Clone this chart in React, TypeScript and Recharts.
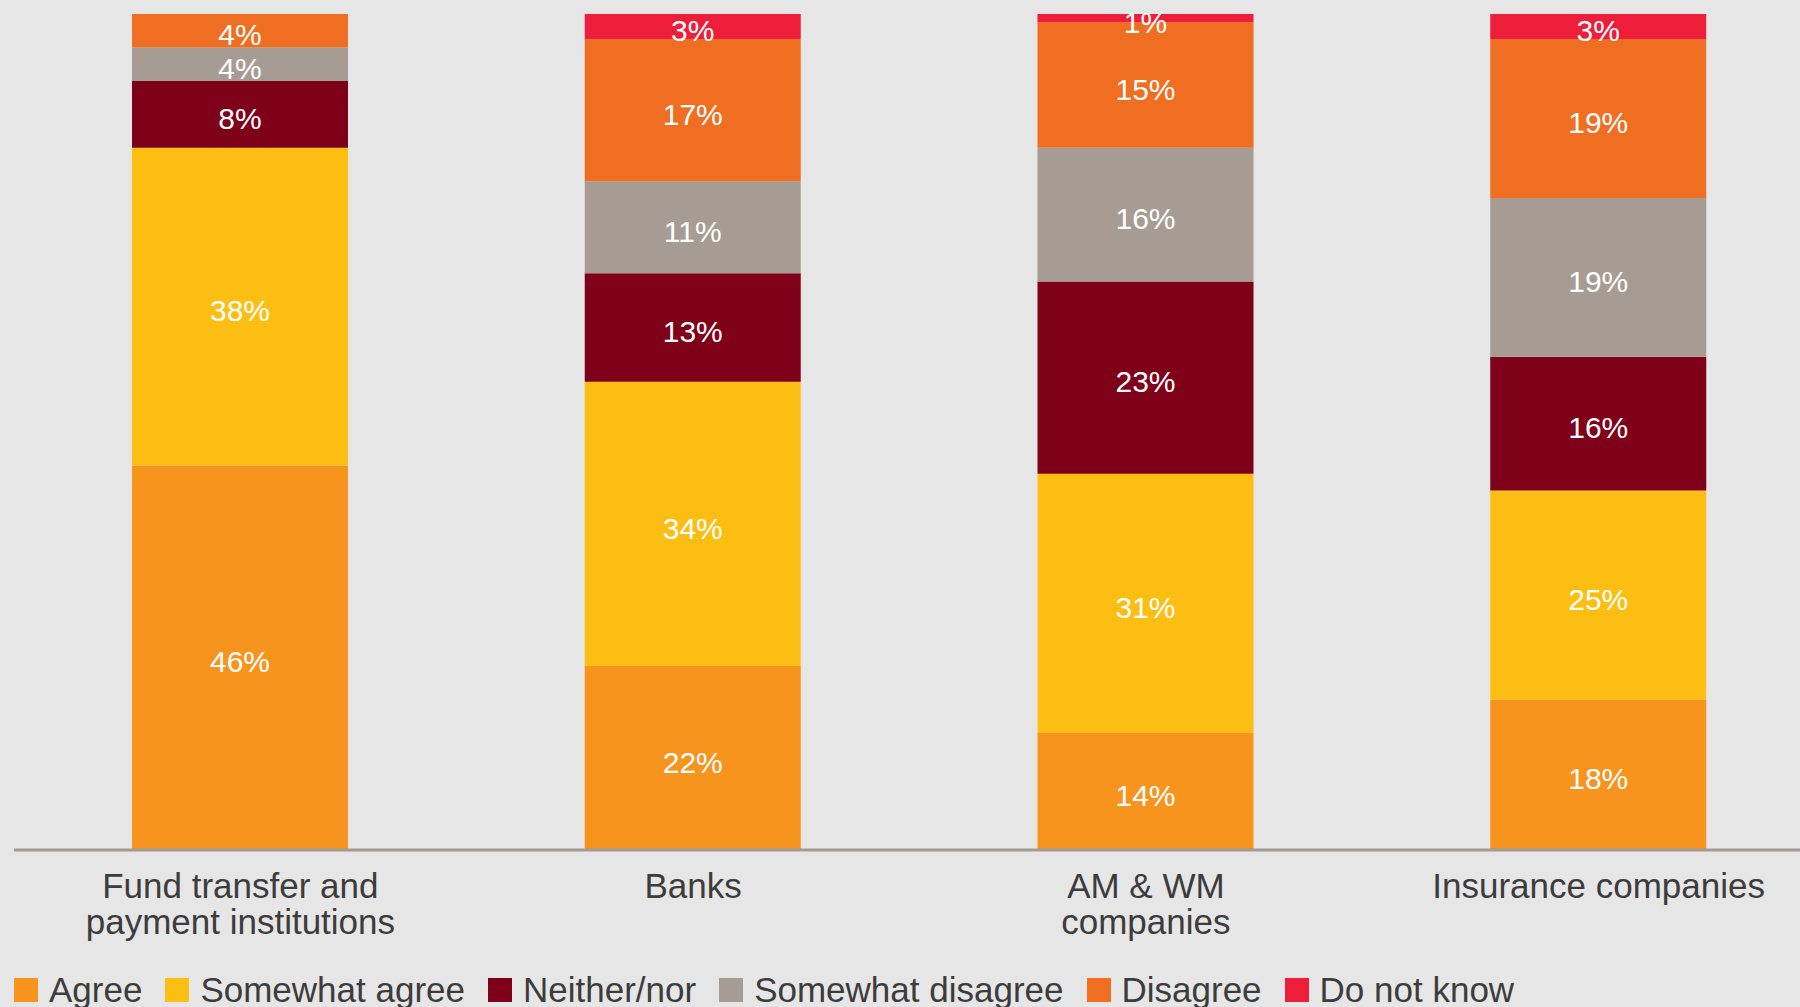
import React from "react";
import { Bar, BarChart, LabelList, XAxis, YAxis } from "recharts";

const categories = [
  "Fund transfer and\npayment institutions",
  "Banks",
  "AM & WM\ncompanies",
  "Insurance companies",
];

const seriesNames = [
  "Agree",
  "Somewhat agree",
  "Neither/nor",
  "Somewhat disagree",
  "Disagree",
  "Do not know",
];
const seriesColors = ["#F7941E", "#FDBE14", "#7F0019", "#A79C93", "#F06E21", "#EE1D3A"];

const agree = [46, 22, 14, 18];
const somewhatAgree = [38, 34, 31, 25];
const neitherNor = [8, 13, 23, 16];
const somewhatDisagree = [4, 11, 16, 19];
const disagree = [4, 17, 15, 19];
const doNotKnow = [0, 3, 1, 3];

const seriesValues = [agree, somewhatAgree, neitherNor, somewhatDisagree, disagree, doNotKnow];
const keys = ["s0", "s1", "s2", "s3", "s4", "s5"];

const data = categories.map((name, i) => {
  const row: Record<string, string | number> = { name };
  seriesValues.forEach((vals, s) => {
    row[keys[s]] = vals[i];
  });
  return row;
});

const FONT = '"Liberation Sans", Arial, Helvetica, sans-serif';

const CategoryTick = (props: any) => {
  const { x, y, payload } = props;
  const lines = String(payload.value).split("\n");
  return (
    <text
      x={x}
      y={y}
      textAnchor="middle"
      fill="#3c3c3c"
      fontSize={35}
      fontFamily={FONT}
    >
      {lines.map((line, i) => (
        <tspan key={i} x={x} dy={i === 0 ? 40 : 36}>
          {line}
        </tspan>
      ))}
    </text>
  );
};

export default function App() {
  return (
    <div
      style={{
        position: "absolute",
        left: 0,
        top: 0,
        width: 1800,
        height: 1007,
        overflow: "hidden",
        background: "#E6E6E6",
        fontFamily: FONT,
      }}
    >
      <BarChart
        width={1825}
        height={1007}
        data={data}
        margin={{ top: 14, right: 0, left: 14, bottom: 0 }}
        barSize={216}
      >
        <YAxis hide domain={[0, 100]} />
        <XAxis
          dataKey="name"
          height={157}
          interval={0}
          tickLine={false}
          axisLine={{ stroke: "#A39A92", strokeWidth: 3 }}
          tick={<CategoryTick />}
        />
        {keys.map((k, s) => (
          <Bar
            key={k}
            dataKey={k}
            stackId="a"
            fill={seriesColors[s]}
            isAnimationActive={false}
          >
            <LabelList
              dataKey={k}
              position="center"
              fill="#ffffff"
              fontSize={30}
              fontFamily={FONT}
              dy={4}
              formatter={(v: any) => (v ? `${v}%` : "")}
            />
          </Bar>
        ))}
      </BarChart>
      <div
        style={{
          position: "absolute",
          left: 14,
          top: 972,
          display: "flex",
          alignItems: "center",
          gap: 23,
          fontSize: 35,
          lineHeight: 1,
          color: "#3c3c3c",
          whiteSpace: "nowrap",
        }}
      >
        {seriesNames.map((n, i) => (
          <div key={n} style={{ display: "flex", alignItems: "center", gap: 11 }}>
            <div style={{ width: 24, height: 24, background: seriesColors[i] }} />
            <span>{n}</span>
          </div>
        ))}
      </div>
    </div>
  );
}
